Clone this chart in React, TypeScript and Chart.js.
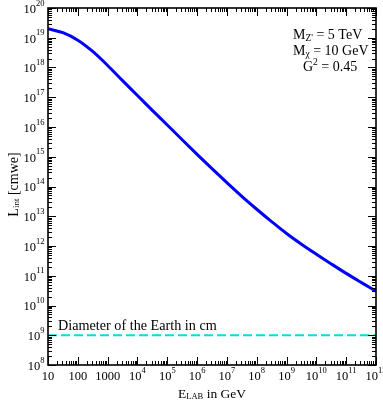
import { useEffect, useRef } from "react";
import { Chart, registerables } from "chart.js";

Chart.register(...registerables);

// Beam energy in GeV
const energies = [
  1e1, 3.16e1, 1e2, 3.16e2, 1e3, 3.16e3, 1e4, 3.16e4, 1e5, 3.16e5, 1e6, 3.16e6,
  1e7, 3.16e7, 1e8, 3.16e8, 1e9, 3.16e9, 1e10, 3.16e10, 1e11, 3.16e11, 1e12,
];
// Integrated luminosity L_int in cmwe
const lumi = [
  2.0e19, 1.48e19, 8.3e18, 3.47e18, 1.17e18, 3.63e17, 1.15e17, 3.63e16, 1.17e16,
  3.72e15, 1.2e15, 3.98e14, 1.35e14, 4.68e13, 1.72e13, 6.6e12, 2.63e12, 1.15e12,
  5.3e11, 2.5e11, 1.2e11, 6.0e10, 3.05e10,
];
const earthDiameter = 1e9; // cm
const earthLabel = "Diameter of the Earth in cm";
const xExponents = [1, 2, 3, 4, 5, 6, 7, 8, 9, 10, 11, 12];
const yExponents = [8, 9, 10, 11, 12, 13, 14, 15, 16, 17, 18, 19, 20];
const xPlainLabels: Record<number, string> = { 1: "10", 2: "100", 3: "1000" };

const FONT = "'Liberation Serif', serif";

type Seg = { t: string; size: number; dy: number };

function drawRich(ctx: CanvasRenderingContext2D, segs: Seg[], x: number, y: number, align: "left" | "center" | "right") {
  let total = 0;
  const widths = segs.map((s) => {
    ctx.font = `${s.size}px ${FONT}`;
    const w = ctx.measureText(s.t).width;
    total += w;
    return w;
  });
  let cx = align === "left" ? x : align === "center" ? x - total / 2 : x - total;
  ctx.textBaseline = "middle";
  ctx.textAlign = "left";
  segs.forEach((s, i) => {
    ctx.font = `${s.size}px ${FONT}`;
    ctx.fillText(s.t, cx, y + s.dy);
    cx += widths[i];
  });
}

const decorPlugin = {
  id: "decor",
  afterDraw(chart: any) {
    const ctx: CanvasRenderingContext2D = chart.ctx;
    const { left, right, top, bottom } = chart.chartArea;
    const xs = chart.scales.x;
    const ys = chart.scales.y;
    ctx.save();
    ctx.strokeStyle = "#000";
    ctx.fillStyle = "#000";
    ctx.lineWidth = 1;
    ctx.beginPath();
    xExponents.forEach((n) => {
      const kmax = n === 12 ? 1 : 9;
      for (let k = 1; k <= kmax; k++) {
        const px = Math.round(xs.getPixelForValue(k * Math.pow(10, n))) + 0.5;
        const len = k === 1 ? 8 : 4;
        ctx.moveTo(px, bottom);
        ctx.lineTo(px, bottom - len);
        ctx.moveTo(px, top);
        ctx.lineTo(px, top + len);
      }
    });
    yExponents.forEach((n) => {
      const kmax = n === 20 ? 1 : 9;
      for (let k = 1; k <= kmax; k++) {
        const py = Math.round(ys.getPixelForValue(k * Math.pow(10, n))) + 0.5;
        const len = k === 1 ? 8 : 4;
        ctx.moveTo(left, py);
        ctx.lineTo(left + len, py);
        ctx.moveTo(right, py);
        ctx.lineTo(right - len, py);
      }
    });
    ctx.stroke();
    ctx.lineWidth = 1.6;
    ctx.strokeRect(left, top, right - left, bottom - top);

    xExponents.forEach((n) => {
      const px = xs.getPixelForValue(Math.pow(10, n));
      if (xPlainLabels[n]) {
        drawRich(ctx, [{ t: xPlainLabels[n], size: 12.5, dy: 0 }], px, bottom + 12, "center");
      } else {
        drawRich(
          ctx,
          [
            { t: "10", size: 12.5, dy: 0 },
            { t: String(n), size: 8.5, dy: -6 },
          ],
          px,
          bottom + 12,
          "center"
        );
      }
    });
    yExponents.forEach((n) => {
      const py = ys.getPixelForValue(Math.pow(10, n));
      drawRich(
        ctx,
        [
          { t: "10", size: 12.5, dy: 1.5 },
          { t: String(n), size: 8.5, dy: -4.5 },
        ],
        left - 3.5,
        py,
        "right"
      );
    });

    drawRich(
      ctx,
      [
        { t: "E", size: 13.5, dy: 0 },
        { t: "LAB", size: 8.5, dy: 3 },
        { t: " in GeV", size: 13.5, dy: 0 },
      ],
      (left + right) / 2,
      394,
      "center"
    );
    ctx.save();
    ctx.translate(14, (top + bottom) / 2 - 2);
    ctx.rotate(-Math.PI / 2);
    drawRich(
      ctx,
      [
        { t: "L", size: 14, dy: 0 },
        { t: "int", size: 9, dy: 3 },
        { t: " [cmwe]", size: 14, dy: 0 },
      ],
      0,
      0,
      "center"
    );
    ctx.restore();

    drawRich(
      ctx,
      [
        { t: "M", size: 14, dy: 0 },
        { t: "Z'", size: 9.5, dy: 3 },
        { t: " = 5 TeV", size: 14, dy: 0 },
      ],
      293,
      35,
      "left"
    );
    drawRich(
      ctx,
      [
        { t: "M", size: 14, dy: 0 },
        { t: "\u03c7", size: 9.5, dy: 3 },
        { t: " = 10 GeV", size: 14, dy: 0 },
      ],
      293,
      51,
      "left"
    );
    drawRich(
      ctx,
      [
        { t: "G", size: 14, dy: 0 },
        { t: "2", size: 9.5, dy: -5 },
        { t: " = 0.45", size: 14, dy: 0 },
      ],
      303,
      67,
      "left"
    );

    const ly = ys.getPixelForValue(earthDiameter);
    drawRich(ctx, [{ t: earthLabel, size: 14.2, dy: 0 }], left + 10, ly - 9, "left");
    ctx.restore();
  },
};

export default function App() {
  const ref = useRef<HTMLCanvasElement | null>(null);
  useEffect(() => {
    if (!ref.current) return;
    const chart = new Chart(ref.current, {
      type: "scatter",
      data: {
        datasets: [
          {
            data: energies.map((e, i) => ({ x: e, y: lumi[i] })),
            showLine: true,
            borderColor: "#0000ff",
            borderWidth: 3,
            pointRadius: 0,
            cubicInterpolationMode: "monotone",
          },
          {
            data: [
              { x: energies[0], y: earthDiameter },
              { x: energies[energies.length - 1], y: earthDiameter },
            ],
            showLine: true,
            borderColor: "#00dede",
            borderWidth: 2,
            borderDash: [9, 4],
            pointRadius: 0,
          },
        ],
      },
      options: {
        responsive: false,
        animation: false,
        layout: { padding: { left: 48, right: 7, top: 8, bottom: 38 } },
        plugins: { legend: { display: false }, tooltip: { enabled: false } },
        scales: {
          x: { type: "logarithmic", min: 1e1, max: 1e12, display: false },
          y: { type: "logarithmic", min: 1e8, max: 1e20, display: false },
        },
      },
      plugins: [decorPlugin],
    } as any);
    return () => chart.destroy();
  }, []);
  return (
    <div style={{ position: "absolute", left: 0, top: 0, width: 383, height: 403, background: "#fff" }}>
      <canvas ref={ref} width={383} height={403} />
    </div>
  );
}
